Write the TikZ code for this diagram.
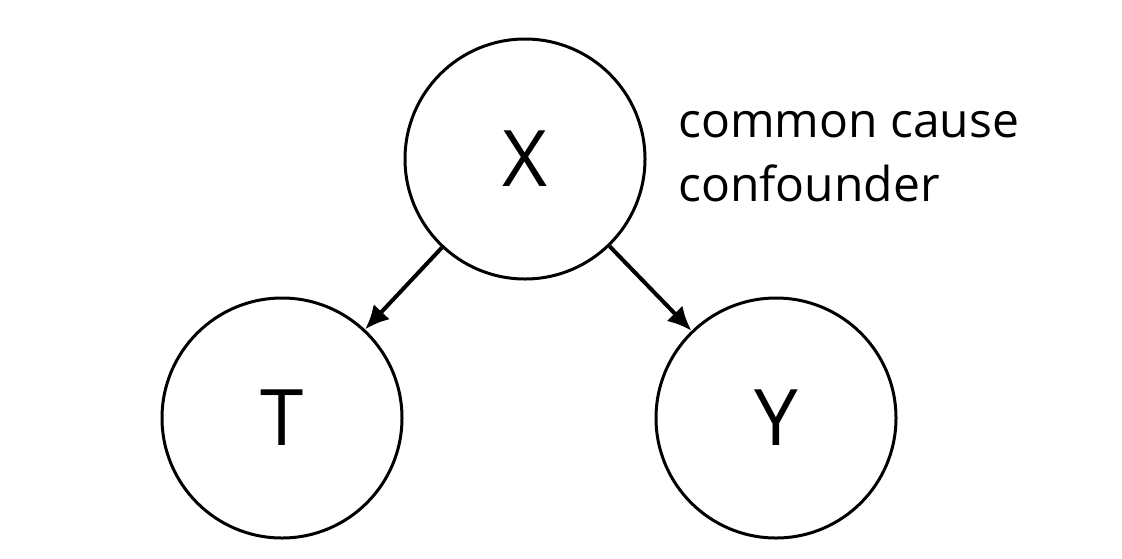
\documentclass[tikz,border=0pt]{standalone}
\usepackage{fontspec}
\setmainfont{Open Sans}
\usetikzlibrary{arrows.meta}
\begin{document}
\begin{tikzpicture}[x=1pt,y=-1pt,
  var/.style={draw, circle, line width=3pt, minimum size=240pt, inner sep=0pt,
    font=\fontsize{78}{80}\selectfont},
  edge/.style={line width=4pt, -{Latex[length=24pt,width=22pt]}},
  note/.style={font=\fontsize{48}{64}\selectfont, align=left, inner sep=0pt}]
\useasboundingbox (0,0) rectangle (1122,558);
\node[var] (X) at (525,159) {X};
\node[var] (T) at (282,418) {T};
\node[var] (Y) at (776,418) {Y};
\node[note, anchor=base west] (lab) at (678,201) {common cause\\confounder};
\draw[edge] (X) -- (T);
\draw[edge] (X) -- (Y);
\end{tikzpicture}
\end{document}
